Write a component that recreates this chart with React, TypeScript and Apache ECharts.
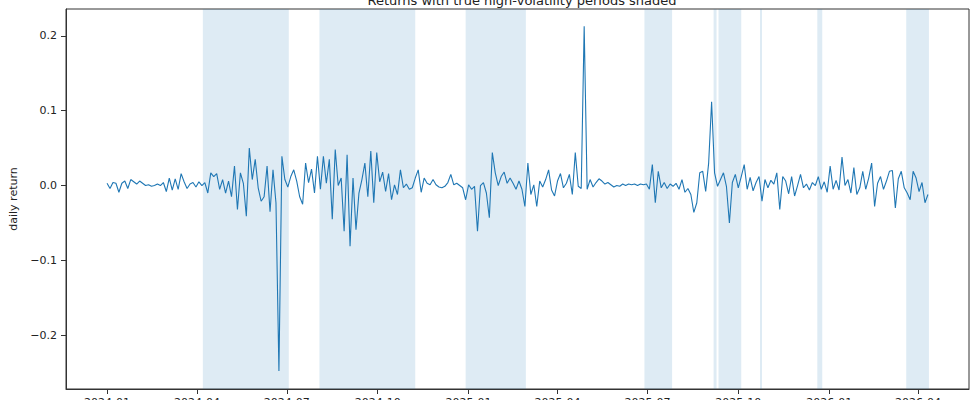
import React, { useEffect, useRef } from "react";
import * as echarts from "echarts";

const TITLE = "Returns with true high-volatility periods shaded";
const Y_LABEL = "daily return";

const START_DATE = "2024-01-01";
const STEP_DAYS = 3;

const returns: number[] = [
  // 2024-01 .. early 2024-04 (calm)
  0.003, -0.004, 0.004, 0.003, -0.009, 0.003, 0.006, -0.004, 0.008, 0.005,
  0.002, 0.006, 0.003, 0.0, 0.001, -0.001, 0.0, 0.002, 0.0, 0.004,
  -0.008, 0.01, -0.006, 0.009, -0.005, 0.016, 0.005, -0.004, 0.002, 0.004,
  -0.002, 0.005, 0.0,
  // shaded 1
  0.004, -0.01, 0.017, 0.012, 0.016, -0.005, 0.008, -0.01, 0.006, -0.015,
  0.026, -0.032, 0.017, 0.003, -0.041, 0.05, 0.008, 0.035, -0.003, -0.021,
  -0.015, 0.026, -0.035, 0.021, -0.023, -0.248, 0.039, 0.008, -0.002,
  // gap
  0.012, 0.021, 0.006, -0.015, -0.025, 0.03, 0.004, 0.022, -0.01, 0.039,
  -0.005,
  // shaded 2
  0.039, 0.003, 0.035, -0.045, 0.048, 0.0, 0.01, -0.061, 0.041, -0.081,
  0.01, -0.059, -0.01, 0.008, 0.03, -0.015, 0.046, -0.023, 0.044, 0.005,
  0.018, -0.008, 0.016, -0.019, 0.001, -0.012, 0.021, -0.003, 0.002, -0.005,
  -0.003, 0.01,
  // gap
  0.021, -0.009, 0.01, 0.003, 0.001, 0.008, 0.001, -0.002, -0.003, -0.001,
  0.004, 0.015, 0.001, 0.003, 0.0, -0.003,
  // shaded 3
  -0.019, 0.001, -0.005, -0.001, -0.061, 0.0, 0.004, -0.01, -0.043, 0.044,
  0.017, 0.0, 0.012, 0.018, 0.003, 0.01, 0.003, -0.005, 0.006, -0.005,
  // gap
  -0.028, 0.03, -0.012, 0.001, -0.028, 0.006, -0.002, 0.008, 0.021, -0.006,
  -0.014, 0.006, 0.016, -0.003, 0.003, 0.015, -0.012, 0.044, -0.001, -0.004,
  0.213, -0.005, 0.008, -0.002, 0.004, 0.009, 0.006, 0.002, 0.004, 0.001,
  -0.002, 0.0, -0.001, 0.002, 0.0, 0.002, 0.001, 0.002, 0.0, 0.002,
  // shaded 4
  0.001, 0.002, -0.005, 0.028, -0.023, 0.019, -0.003, 0.004, -0.004, 0.002,
  // rest
  -0.001, 0.003, -0.005, 0.008, -0.009, -0.004, -0.012, -0.036, -0.023, 0.017,
  0.019, -0.008, 0.03, 0.112, 0.017, -0.001, 0.008, 0.017, -0.001, -0.05,
  0.004, 0.015, -0.003, 0.012, 0.028, -0.005, 0.011, -0.007, 0.004, 0.012,
  -0.021, 0.008, -0.003, 0.007, 0.002, 0.017, -0.032, 0.012, 0.006, -0.011,
  0.012, -0.014, 0.0, 0.015, -0.003, 0.002, -0.006, 0.004, 0.0, 0.012,
  -0.005, 0.005, -0.009, 0.026, -0.005, 0.007, -0.006, 0.038, 0.0, 0.008,
  -0.01, 0.024, -0.012, -0.003, 0.019, -0.005, 0.01, 0.03, -0.028, 0.003,
  0.012, -0.005, 0.006, 0.019, 0.02, -0.03, 0.009, 0.019, -0.003, -0.01,
  -0.019, 0.019, 0.01, -0.008, 0.004, -0.023, -0.012,
];

const shadedPeriods: [string, string][] = [
  ["2024-04-07", "2024-07-03"],
  ["2024-08-03", "2024-11-08"],
  ["2024-12-29", "2025-02-28"],
  ["2025-06-28", "2025-07-26"],
  ["2025-09-06", "2025-09-09"],
  ["2025-09-11", "2025-10-04"],
  ["2025-10-23", "2025-10-25"],
  ["2025-12-20", "2025-12-25"],
  ["2026-03-20", "2026-04-12"],
];

const xTickLabels = [
  "2024-01", "2024-04", "2024-07", "2024-10", "2025-01",
  "2025-04", "2025-07", "2025-10", "2026-01", "2026-04",
];
const yTicks = [-0.2, -0.1, 0.0, 0.1, 0.2];
const Y_MIN = -0.272;
const Y_MAX = 0.236;

const DAY = 86400000;
const toTs = (s: string) => {
  const [y, m, d] = s.split("-").map(Number);
  return Date.UTC(y, m - 1, d || 1);
};

export default function App() {
  const ref = useRef<HTMLDivElement>(null);
  useEffect(() => {
    if (!ref.current) return;
    const chart = echarts.init(ref.current, undefined, { renderer: "svg" });
    const t0 = toTs(START_DATE);
    const seriesData = returns.map((v, i) => [t0 + i * STEP_DAYS * DAY, v]);
    const first = seriesData[0][0] as number;
    const last = seriesData[seriesData.length - 1][0] as number;
    const pad = (last - first) * 0.05;
    const font = "DejaVu Sans";
    const textColor = "#222";
    const xTickValues = xTickLabels.map(toTs);
    chart.setOption({
      animation: false,
      title: {
        text: TITLE,
        left: 517,
        textAlign: "center",
        top: -11,
        textStyle: { fontFamily: font, fontSize: 13, fontWeight: "normal", color: textColor },
      },
      grid: {
        left: 66,
        right: 9,
        top: 9,
        bottom: 11,
        show: true,
        borderColor: "#333",
        borderWidth: 1,
        containLabel: false,
        outerBoundsMode: "none",
      },
      xAxis: {
        type: "value",
        min: first - pad,
        max: last + pad,
        scale: true,
        splitLine: { show: false },
        axisLine: { show: true, onZero: false, lineStyle: { color: "#333", width: 1 } },
        axisTick: {
          show: true,
          length: 5,
          lineStyle: { color: "#333" },
          customValues: xTickValues,
        },
        axisLabel: {
          customValues: xTickValues,
          fontFamily: font,
          fontSize: 11,
          color: textColor,
          margin: 8,
          formatter: (v: number) => {
            const d = new Date(v);
            return `${d.getUTCFullYear()}-${String(d.getUTCMonth() + 1).padStart(2, "0")}`;
          },
        },
      },
      yAxis: {
        type: "value",
        min: Y_MIN,
        max: Y_MAX,
        name: Y_LABEL,
        nameLocation: "middle",
        nameGap: 44,
        nameTextStyle: { fontFamily: font, fontSize: 11, color: textColor },
        splitLine: { show: false },
        axisLine: { show: true, onZero: false, lineStyle: { color: "#333", width: 1 } },
        axisTick: { show: true, length: 5, lineStyle: { color: "#333" }, customValues: yTicks },
        axisLabel: {
          customValues: yTicks,
          fontFamily: font,
          fontSize: 11,
          color: textColor,
          margin: 9,
          formatter: (v: number) => (Math.abs(v) < 1e-9 ? "0.0" : v.toFixed(1).replace("-", "\u2212")),
        },
      },
      series: [
        {
          type: "line",
          data: seriesData,
          showSymbol: false,
          symbol: "none",
          lineStyle: { color: "#1f77b4", width: 1.1 },
          itemStyle: { color: "#1f77b4" },
          z: 3,
          markArea: {
            silent: true,
            itemStyle: { color: "rgba(31,119,180,0.15)" },
            data: shadedPeriods.map(([a, b]) => [{ xAxis: toTs(a) }, { xAxis: toTs(b) }]),
          },
        },
      ],
    });
    return () => chart.dispose();
  }, []);
  return (
    <div
      ref={ref}
      style={{ position: "absolute", left: 0, top: 0, width: 978, height: 400 }}
    />
  );
}
